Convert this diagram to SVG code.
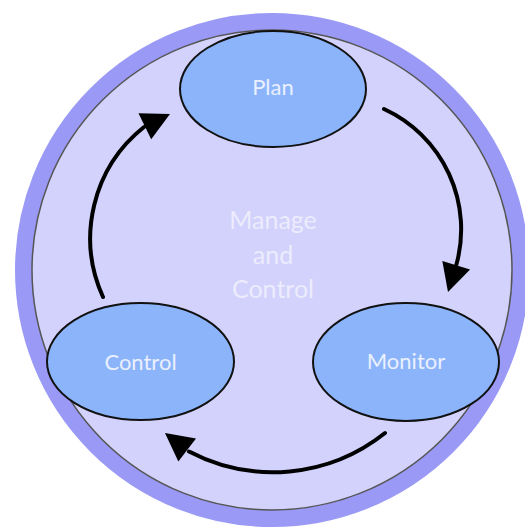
<svg xmlns="http://www.w3.org/2000/svg" xmlns:xlink="http://www.w3.org/1999/xlink" width="525" height="529" viewBox="0 0 525 529">
  <style>
    .node ellipse { fill: #8cb4fa; stroke: #111; stroke-width: 2; }
    .node text { font-family: Lato, "Open Sans", "DejaVu Sans", sans-serif; font-size: 22px; fill: #eaf0fe; text-anchor: middle; }
    .hub text { font-family: Lato, "Open Sans", "DejaVu Sans", sans-serif; font-size: 25px; fill: #ececfd; text-anchor: middle; }
    .link { fill: none; stroke: #000; stroke-width: 4; stroke-linecap: round; }
    .head { fill: #000; }
  </style>
  <defs>
    <!-- arrowhead, tip at the origin pointing along +x -->
    <path id="head" class="head" d="M0,0 L-28,-14.5 L-28,14.5 Z"/>
  </defs>

  <rect width="525" height="529" fill="#fff"/>

  <!-- outer ring and disc -->
  <g id="cycle-disc">
    <circle cx="272" cy="270" r="248.5" fill="#d2d2fc" stroke="#9a9af6" stroke-width="17"/>
    <circle cx="272" cy="270" r="240" fill="none" stroke="#555" stroke-width="1.5"/>
  </g>

  <!-- connectors -->
  <g id="connectors">
    <g id="plan-to-monitor">
      <path class="link" d="M384,109 A132.5,132.5 0 0 1 456,266"/>
      <use xlink:href="#head" transform="translate(448,292) rotate(107)"/>
    </g>
    <g id="monitor-to-control">
      <path class="link" d="M385,433 A180,180 0 0 1 189,451.5"/>
      <use xlink:href="#head" transform="translate(165,433) rotate(-142.4)"/>
    </g>
    <g id="control-to-plan">
      <path class="link" d="M103,297 A142,142 0 0 1 144,127"/>
      <use xlink:href="#head" transform="translate(170,114) rotate(-26)"/>
    </g>
  </g>

  <g id="hub" class="hub">
    <text x="273" y="229">Manage</text>
    <text x="273" y="264">and</text>
    <text x="273" y="298">Control</text>
  </g>

  <g id="plan" class="node">
    <ellipse cx="273" cy="89" rx="93" ry="58"/>
    <text x="273" y="95">Plan</text>
  </g>

  <g id="monitor" class="node">
    <ellipse cx="406" cy="362" rx="93" ry="59"/>
    <text x="406" y="369">Monitor</text>
  </g>

  <g id="control" class="node">
    <ellipse cx="140.5" cy="361.5" rx="93.5" ry="58.5"/>
    <text x="140.5" y="370">Control</text>
  </g>
</svg>
